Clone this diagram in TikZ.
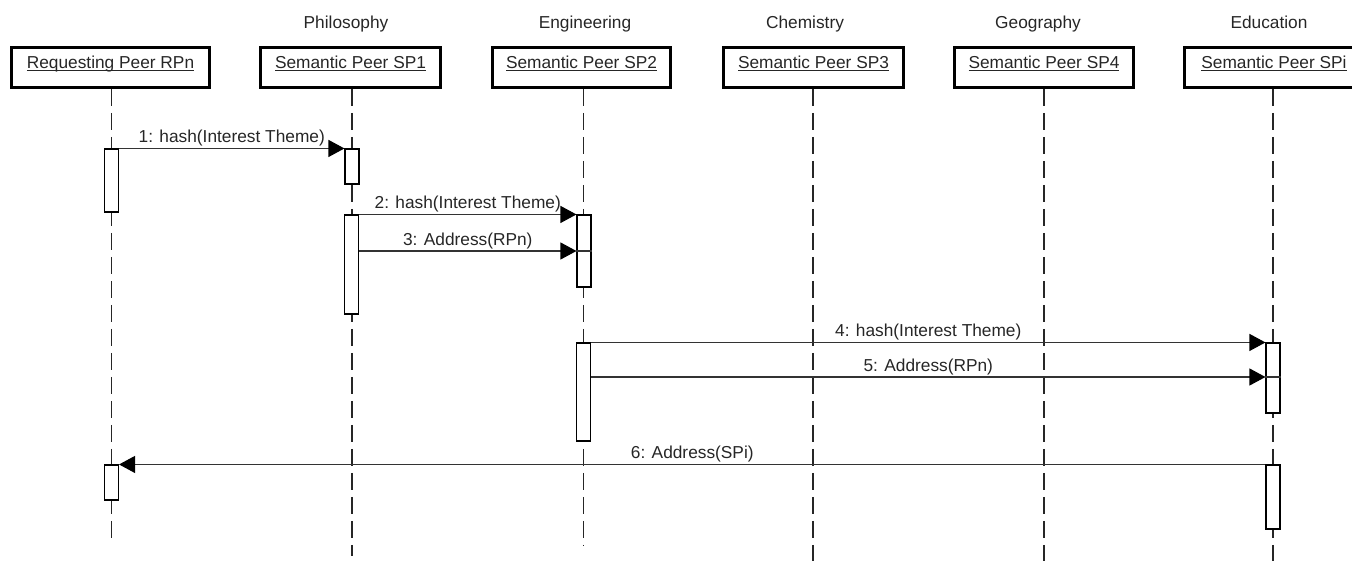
\documentclass[tikz,border=0pt]{standalone}
\usepackage{fontspec}
\setmainfont{Liberation Sans}
\usetikzlibrary{arrows.meta}
% text with a thin rule a little below the baseline
\newcommand\ulinetext[1]{\setbox0\hbox{#1}\rlap{\rule[-3.2pt]{\wd0}{0.9pt}}\box0}
\begin{document}
\begin{tikzpicture}[x=1pt,y=-1pt,
  every node/.style={font=\fontsize{17.3}{20}\selectfont, text=black!85},
  peer/.style={draw, line width=2.8pt, minimum height=40pt, inner sep=0pt,
    text height=12pt, text depth=11pt},
  areatext/.style={anchor=base, inner sep=0pt},
  life/.style={line width=1.1pt, draw=black!85, dash pattern=on 17pt off 7pt},
  act/.style={draw, fill=white, line width=1.1pt, minimum width=14pt, inner sep=0pt},
  msg/.style={line width=1.1pt, draw=black!80,
    -{Triangle[length=16pt,width=17pt,black]}},
  thinline/.style={line width=1.1pt, draw=black!80},
  lbl/.style={anchor=base, yshift=5.5pt, inner sep=0pt},
]
\useasboundingbox (0,0) rectangle (1352,560);
\clip (0,0) rectangle (1352,560);

% domain captions
\node[areatext] at (346,28) {Philosophy};
\node[areatext] at (585,28) {Engineering};
\node[areatext] at (805,28) {Chemistry};
\node[areatext] at (1038,28) {Geography};
\node[areatext] at (1269,28) {Education};

% participants
\node[peer, minimum width=198pt] (rp)  at (110.5,67.5) {\ulinetext{Requesting Peer RPn}};
\node[peer, minimum width=180pt] (sp1) at (350.5,67.5) {\ulinetext{Semantic Peer SP1}};
\node[peer, minimum width=178pt] (sp2) at (581.5,67.5) {\ulinetext{Semantic Peer SP2}};
\node[peer, minimum width=180pt] (sp3) at (813.5,67.5) {\ulinetext{Semantic Peer SP3}};
\node[peer, minimum width=179pt] (sp4) at (1044,67.5) {\ulinetext{Semantic Peer SP4}};
\node[peer, minimum width=179pt] (spi) at (1274,67.5) {\ulinetext{Semantic Peer SPi}};

% lifeline ends
\coordinate (rpEnd)  at (111.5,541);
\coordinate (sp1End) at (352,556);
\coordinate (sp2End) at (583.5,546);
\coordinate (sp3End) at (813,562);
\coordinate (sp4End) at (1044,562);
\coordinate (spiEnd) at (1273,562);

% lifelines
\draw[life] (rp.south -| rpEnd) -- (rpEnd);
\draw[life] (sp1.south -| sp1End) -- (sp1End);
\draw[life] (sp2.south -| sp2End) -- (sp2End);
\draw[life] (sp3.south -| sp3End) -- (sp3End);
\draw[life] (sp4.south -| sp4End) -- (sp4End);
\draw[life] (spi.south -| spiEnd) -- (spiEnd);

% activation bars
\node[act, minimum height=63pt] (a1) at (111.5,180.5) {};
\node[act, minimum height=35pt] (a2) at (111.5,482.5) {};
\node[act, minimum height=35pt] (b1) at (352,166.5) {};
\node[act, minimum height=99pt] (b2) at (351.5,264.5) {};
\node[act, minimum height=72pt] (c1) at (584,251) {};
\node[act, minimum height=98pt] (c2) at (583.5,392) {};
\node[act, minimum height=70pt] (d1) at (1273,378) {};
\node[act, minimum height=64pt] (d2) at (1273,497) {};

% message rows
\coordinate (m3) at (0,251);
\coordinate (m5) at (0,377);

% messages
\draw[msg] (a1.north east) -- (b1.north west)
  node[lbl, midway] {1: hash(Interest Theme)};
\draw[msg] (b2.north east) -- (c1.north west)
  node[lbl, midway] {2: hash(Interest Theme)};
\draw[msg] (b2.east |- m3) -- (c1.west |- m3)
  node[lbl, midway] {3: Address(RPn)};
\draw[thinline] (c1.west |- m3) -- (c1.east |- m3);
\draw[msg] (c2.north east) -- (d1.north west)
  node[lbl, midway] {4: hash(Interest Theme)};
\draw[msg] (c2.east |- m5) -- (d1.west |- m5)
  node[lbl, midway] {5: Address(RPn)};
\draw[thinline] (d1.west |- m5) -- (d1.east |- m5);
\draw[msg] (d2.north west) -- (a2.north east)
  node[lbl, midway] {6: Address(SPi)};
\end{tikzpicture}
\end{document}
